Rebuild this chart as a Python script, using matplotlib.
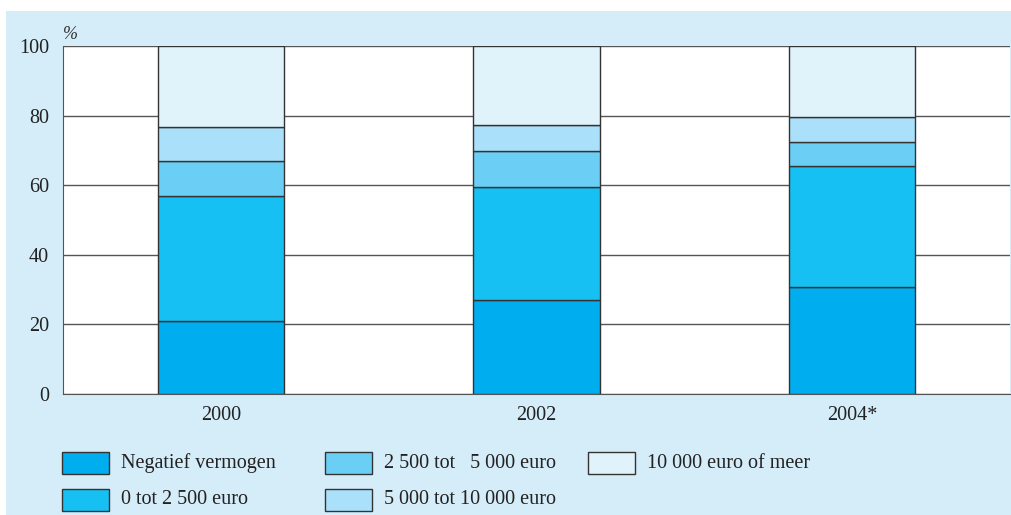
import matplotlib.pyplot as plt
from matplotlib.patches import Rectangle

years = ["2000", "2002", "2004*"]
labels = ["Negatief vermogen", "0 tot 2 500 euro", "2 500 tot   5 000 euro",
          "5 000 tot 10 000 euro", "10 000 euro of meer"]
negatief = [21.0, 27.0, 30.7]
tot_2500 = [36.0, 32.5, 34.7]
tot_5000 = [10.0, 10.3, 6.9]
tot_10000 = [9.8, 7.5, 7.4]
meer = [23.2, 22.7, 20.3]
series = [negatief, tot_2500, tot_5000, tot_10000, meer]
colors = ["#00ADEE", "#17C0F2", "#6BCFF5", "#ABE0FA", "#E0F3FB"]

bg = "#D5ECF9"
plt.rcParams['font.family'] = ['Liberation Serif', 'DejaVu Serif']

fig = plt.figure(figsize=(10.11, 5.15), dpi=100)
fig.patches.append(Rectangle((6 / 1011, 0), 1 - 6 / 1011, 1 - 11 / 515,
                             transform=fig.transFigure, facecolor=bg,
                             edgecolor="none", zorder=-10))
ax = fig.add_axes([63 / 1011, 1 - 394 / 515, 947 / 1011, 348 / 515])
ax.set_facecolor("white")

x = range(len(years))
bottom = [0, 0, 0]
for vals, col, lab in zip(series, colors, labels):
    ax.bar(x, vals, 0.4, bottom=bottom, color=col, edgecolor="#333333",
           linewidth=1, label=lab, zorder=3)
    bottom = [b + v for b, v in zip(bottom, vals)]

ax.set_xlim(-0.5, 2.5)
ax.set_ylim(0, 100)
ax.set_yticks([0, 20, 40, 60, 80, 100])
ax.set_xticks(list(x))
ax.set_xticklabels(years)
ax.tick_params(length=0, labelsize=14.5, colors="#222222", pad=10)
ax.tick_params(axis="x", pad=9)
ax.grid(axis="y", color="#555555", linewidth=1, zorder=1)
for s in ["top", "right"]:
    ax.spines[s].set_visible(False)
ax.spines["left"].set_color("#555555")
ax.spines["bottom"].set_color("#555555")
ax.text(0.0, 1.01, "%", transform=ax.transAxes, fontsize=13, style="italic",
        color="#333333", ha="left", va="bottom")

# legend, placed by hand
cols_x = [62, 325, 588]
rows_y = [463, 500]
for i, (col, lab) in enumerate(zip(colors, labels)):
    cx = cols_x[i // 2]
    cy = rows_y[i % 2]
    fig.patches.append(Rectangle((cx / 1011, 1 - (cy + 11) / 515), 47 / 1011, 22 / 515,
                                 transform=fig.transFigure, facecolor=col,
                                 edgecolor="#333333", linewidth=1))
    fig.text((cx + 59) / 1011, 1 - cy / 515, lab, fontsize=14.5,
             color="#222222", ha="left", va="center")

fig.savefig("out.png", dpi=100)
